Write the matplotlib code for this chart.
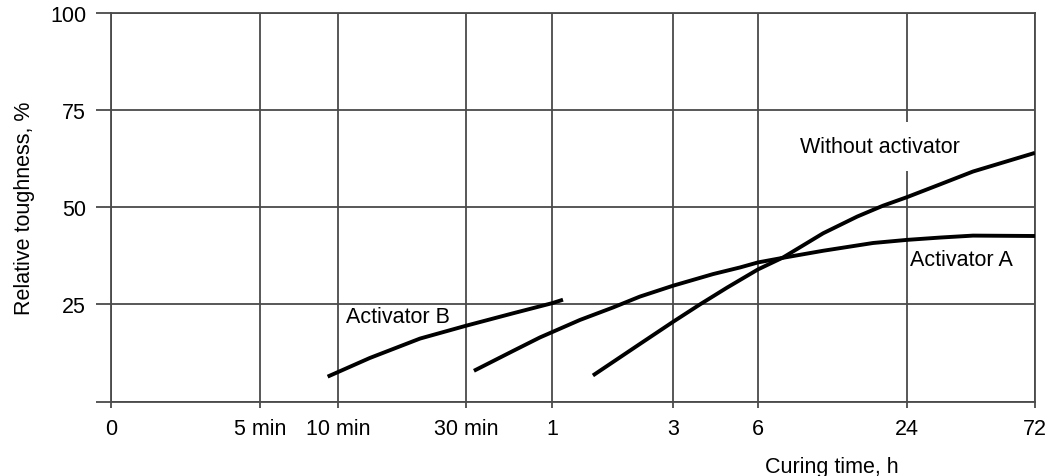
import numpy as np
import matplotlib
matplotlib.use("Agg")
import matplotlib.pyplot as plt

plt.rcParams['font.family'] = ['Liberation Sans', 'DejaVu Sans']

# grid of curing times (hours) and their labels
tick_hours = [0, 5 / 60, 10 / 60, 0.5, 1, 3, 6, 24, 72]
tick_labels = ['0', '5 min', '10 min', '30 min', '1', '3', '6', '24', '72']
# hand-drawn axis: spacing of the grid columns
grid_pos = [0, 149, 227, 355, 441, 562, 647, 796, 924]

# curves (hours, relative toughness %)
act_b_t = [0.152, 0.219, 0.337, 0.5, 0.73, 1.0, 1.105]
act_b_v = [6.4, 11.2, 16.2, 19.5, 22.7, 25.3, 26.2]

act_a_t = [0.533, 0.73, 0.908, 1.29, 1.74, 2.22, 3, 4.16, 5.18, 6, 7.59,
           11.0, 17.5, 24, 31.9, 42.3, 72]
act_a_v = [7.9, 13.0, 16.5, 21.0, 24.2, 27.0, 29.8, 32.8, 34.5, 35.8, 37.0,
           38.8, 40.8, 41.6, 42.2, 42.7, 42.6]

none_t = [1.45, 2.22, 3, 3.74, 4.66, 6, 7.59, 11.0, 15.1, 19.2, 24, 31.9, 42.3, 72]
none_v = [6.7, 14.8, 20.5, 25.0, 29.3, 34.0, 37.1, 43.3, 47.6, 50.4, 52.6, 55.9, 59.2, 64.0]

y_ticks = [0, 25, 50, 75, 100]
y_labels = ['', '25', '50', '75', '100']

t1 = tick_hours[1]


def g(t):
    t = np.asarray(t, dtype=float)
    tt = np.maximum(t, 1e-9)
    return np.where(t >= t1, np.log10(tt), np.log10(t1) - (t1 - t) / t1)


def g_inv(u):
    u = np.asarray(u, dtype=float)
    return np.where(u >= np.log10(t1), 10 ** np.minimum(u, 5), t1 * (1 - (np.log10(t1) - u)))


g_ticks = g(tick_hours)


def forward(t):
    return np.interp(g(t), g_ticks, grid_pos)


def inverse(p):
    return g_inv(np.interp(p, grid_pos, g_ticks))


fs = 15.5
fig = plt.figure(figsize=(10.45, 4.77), dpi=100)
ax = fig.add_axes([111 / 1045, 1 - 402.5 / 477, 924 / 1045, 388.5 / 477])
ax.set_xscale('function', functions=(forward, inverse))
ax.set_xlim(0, 72)
ax.set_ylim(0, 100)

grid_col = '#4a4a4a'
ax.set_xticks(tick_hours)
ax.set_xticklabels(tick_labels)
ax.set_yticks(y_ticks)
ax.set_yticklabels(y_labels)
ax.tick_params(axis='x', length=4, width=1.3, color=grid_col, pad=8, labelsize=fs)
ax.tick_params(axis='y', length=11, width=1.3, color=grid_col, pad=7, labelsize=fs)
ax.minorticks_off()
ax.grid(True, color=grid_col, lw=1.3)
for s in ax.spines.values():
    s.set_color(grid_col)
    s.set_linewidth(1.3)

for xs, ys in [(act_b_t, act_b_v), (act_a_t, act_a_v), (none_t, none_v)]:
    ax.plot(xs, ys, color='black', lw=2.8, solid_capstyle='butt',
            solid_joinstyle='round', zorder=5)

ax.text(8.86, 65.7, 'Without activator', fontsize=fs, ha='left', va='center',
        bbox=dict(facecolor='white', edgecolor='none', pad=10), zorder=4)
ax.text(24.6, 36.6, 'Activator A', fontsize=fs, ha='left', va='center', zorder=4)
ax.text(0.178, 22.0, 'Activator B', fontsize=fs, ha='left', va='center', zorder=4)

ax.set_ylabel('Relative toughness, %', fontsize=fs)
ax.yaxis.set_label_coords(-0.082, 0.5)
ax.set_xlabel('Curing time, h', fontsize=fs, va='top')
ax.xaxis.set_label_coords(0.78, -0.14)

fig.savefig('out.png', dpi=100)
